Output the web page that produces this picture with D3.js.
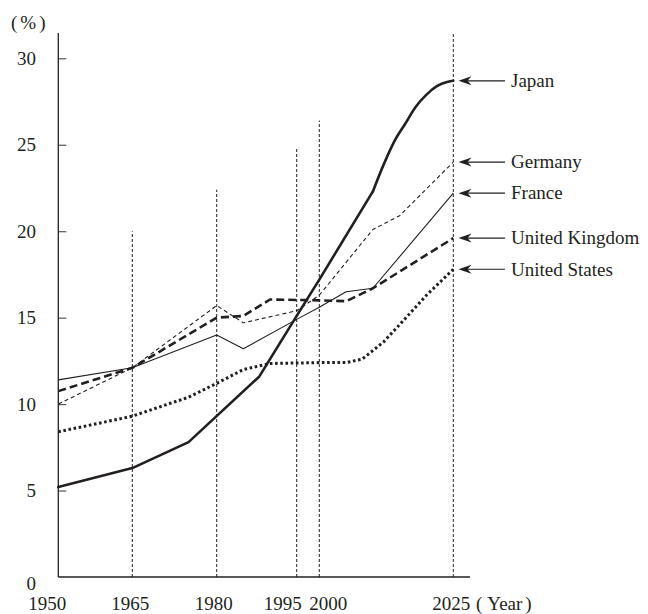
<!DOCTYPE html>
<html>
<head>
<meta charset="utf-8">
<script src="https://cdn.jsdelivr.net/npm/d3@7"></script>
<style>
  html, body { margin: 0; padding: 0; background: #fff; }
  svg { display: block; }
  text { font-family: "Liberation Serif", "Times New Roman", serif; fill: #231f20; }
</style>
</head>
<body>
<svg id="chart" width="648" height="614"></svg>
<script>
// ---------- data ----------
const tickYears = [1950, 1965, 1980, 1995, 2000, 2025];
const tickLabels = ["1950", "1965", "1980", "1995", "2000", "2025"];
const yTicks = [0, 5, 10, 15, 20, 25, 30];
const guideYears = [1965, 1980, 1995, 2000, 2025];
const guideTops = [20.0, 22.4, 24.8, 26.4, 31.4];

const seriesNames = ["Japan", "Germany", "France", "United Kingdom", "United States"];
const japan = [[1950,5.2],[1965,6.3],[1975,7.8],[1988,11.6],[1995,15.1],[2000,17.2],[2010,22.3],
  [2012,23.85],[2014,25.2],[2016,26.2],[2018,27.2],[2020,27.9],[2022,28.4],[2024,28.65],[2025,28.7]];
const germany = [[1950,10.0],[1965,12.1],[1980,15.7],[1985,14.7],[1995,15.4],[2000,16.3],[2010,20.1],[2015,20.9],[2025,24.0]];
const france = [[1950,11.4],[1965,12.1],[1980,14.0],[1985,13.2],[1995,14.9],[2000,15.6],[2005,16.5],[2010,16.7],[2025,22.2]];
const uk = [[1950,10.75],[1965,12.1],[1980,15.0],[1985,15.1],[1990,16.05],[2000,16.0],[2005,15.95],[2010,16.7],[2025,19.6]];
const us = [[1950,8.4],[1965,9.3],[1975,10.4],[1980,11.2],[1985,12.0],[1990,12.35],[2000,12.4],[2005,12.4],[2008,12.6],[2012,13.6],[2015,14.6],[2020,16.3],[2025,17.8]];

// ---------- layout / styles ----------
const allSeries = [japan, germany, france, uk, us];
const styles = [
  { w: 2.6, dash: null },
  { w: 1.1, dash: "4,3" },
  { w: 1.1, dash: null },
  { w: 2.6, dash: "8,4" },
  { w: 3.0, dash: "2.6,2.6" }
];
const labelDx = [-11, -2, -3, -14, 9, -2];
const fontSize = 19;
const ink = "#231f20";

const svg = d3.select("#chart");
const x = d3.scaleLinear()
  .domain(tickYears)
  .range([58.3, 132.3, 216.7, 296.7, 319.3, 453.3]);
const y = d3.scaleLinear().domain([0, 30]).range([577, 58.3]);
const axisTop = 33, axisRight = 470;

// guide dotted verticals
svg.append("g").selectAll("line").data(guideYears).join("line")
  .attr("x1", d => x(d)).attr("x2", d => x(d))
  .attr("y1", y(0)).attr("y2", (d, i) => y(guideTops[i]))
  .attr("stroke", ink).attr("stroke-width", 1).attr("stroke-dasharray", "3,2");

// y axis
const yAxis = d3.axisRight(y).tickValues(yTicks).tickSize(8).tickFormat("");
const gy = svg.append("g").attr("transform", `translate(${x(1950)},0)`).call(yAxis);
gy.select(".domain").remove();
gy.selectAll(".tick line").attr("stroke", "#555").attr("stroke-width", 1.2);
gy.selectAll(".tick").filter(d => d === 0).remove();

svg.append("line").attr("x1", x(1950)).attr("x2", x(1950)).attr("y1", axisTop).attr("y2", y(0))
  .attr("stroke", ink).attr("stroke-width", 1.3);
svg.append("line").attr("x1", x(1950)).attr("x2", axisRight).attr("y1", y(0)).attr("y2", y(0))
  .attr("stroke", ink).attr("stroke-width", 1.3);

// y labels
svg.append("g").selectAll("text").data(yTicks).join("text")
  .attr("x", 36).attr("y", d => y(d) + (d === 0 ? 6 : 0))
  .attr("dy", "0.35em").attr("text-anchor", "end")
  .attr("font-size", fontSize).text(d => d);

// y unit "(%)"
const unit = svg.append("text").attr("x", 11).attr("y", 29).attr("font-size", fontSize);
unit.append("tspan").text("(");
unit.append("tspan").attr("dx", 3).text("%");
unit.append("tspan").attr("dx", 3).text(")");

// x labels
svg.append("g").selectAll("text").data(tickYears).join("text")
  .attr("x", (d, i) => x(d) + labelDx[i]).attr("y", 610)
  .attr("text-anchor", "middle").attr("font-size", fontSize)
  .text((d, i) => tickLabels[i]);
const yr = svg.append("text").attr("x", 476).attr("y", 610).attr("font-size", fontSize);
yr.append("tspan").text("(");
yr.append("tspan").attr("dx", 5).text("Year");
yr.append("tspan").attr("dx", 3).text(")");

// lines
const line = d3.line().x(d => x(d[0])).y(d => y(d[1]));
const smooth = d3.line().x(d => x(d[0])).y(d => y(d[1])).curve(d3.curveMonotoneX);
const lg = svg.append("g");
allSeries.forEach((s, i) => {
  const st = styles[i];
  if (i === 0) {
    // Japan: straight segments, then a smooth bend after 2010
    const head = s.filter(d => d[0] <= 2010);
    const tail = s.filter(d => d[0] >= 2010);
    [line(head), smooth(tail)].forEach(dstr => {
      lg.append("path").attr("d", dstr).attr("fill", "none").attr("stroke", ink)
        .attr("stroke-width", st.w).attr("stroke-linejoin", "round").attr("stroke-linecap", "round");
    });
  } else {
    lg.append("path").attr("d", line(s)).attr("fill", "none").attr("stroke", ink)
      .attr("stroke-width", st.w).attr("stroke-dasharray", st.dash)
      .attr("stroke-linejoin", "round");
  }
});

// arrows + labels
const tipX = 458.5, tailX = 505, textX = 511;
const ag = svg.append("g").selectAll("g").data(allSeries).join("g")
  .attr("transform", d => `translate(0,${y(d[d.length - 1][1])})`);
ag.append("line").attr("x1", tipX + 6).attr("x2", tailX).attr("y1", 0).attr("y2", 0)
  .attr("stroke", ink).attr("stroke-width", 1.2);
ag.append("path").attr("d", `M${tipX},0 L${tipX + 13},-4.5 L${tipX + 9},0 L${tipX + 13},4.5 Z`).attr("fill", ink);
ag.append("text").attr("x", textX).attr("y", 0).attr("dy", "0.33em")
  .attr("font-size", fontSize).text((d, i) => seriesNames[i]);
</script>
</body>
</html>
